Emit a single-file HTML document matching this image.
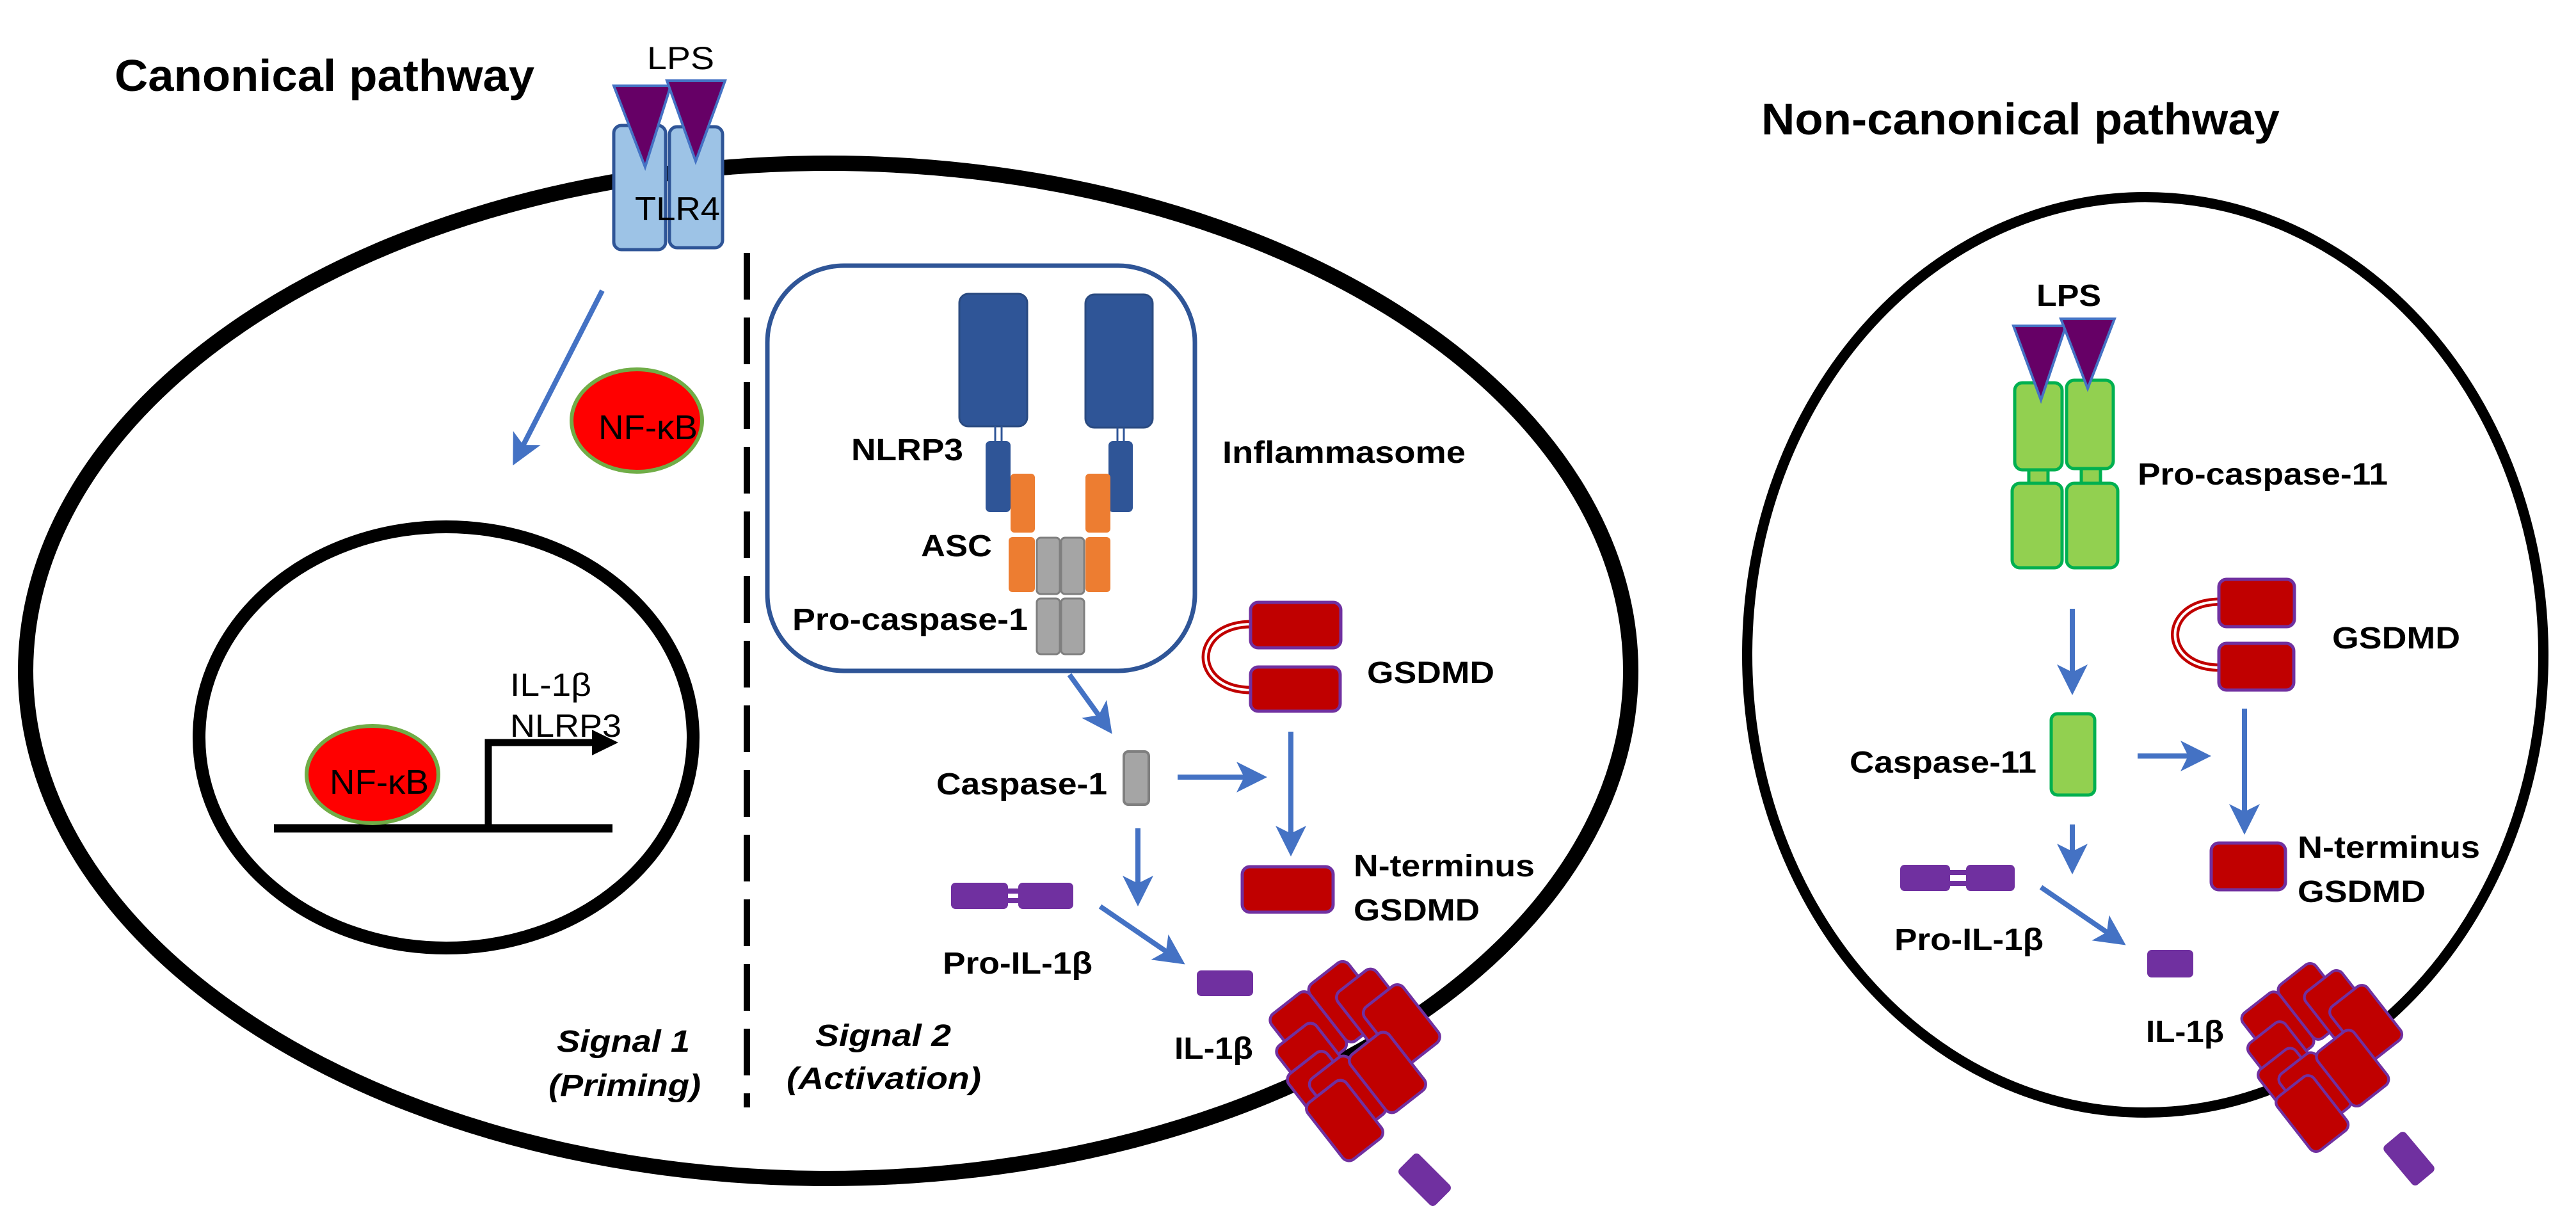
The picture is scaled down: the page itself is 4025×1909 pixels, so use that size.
<!DOCTYPE html>
<html><head><meta charset="utf-8"><style>
html,body{margin:0;padding:0;background:#fff;}
svg{display:block;}
text{font-family:"Liberation Sans",Arial,sans-serif;font-weight:bold;fill:#000;}
</style></head><body>
<svg width="4025" height="1909" viewBox="0 0 4025 1909" xmlns="http://www.w3.org/2000/svg">
<defs>
<marker id="ah" markerWidth="6" markerHeight="6" refX="5" refY="3" orient="auto" markerUnits="strokeWidth">
<path d="M0,0 L6,3 L0,6 L1.5,3 Z" fill="#4472c4"/></marker>
<g id="pore">
 <g transform="rotate(-38)">
  <rect x="-95" y="-150" width="85" height="125" rx="14"/>
  <rect x="-10" y="-150" width="85" height="125" rx="14"/>
  <rect x="-120" y="-100" width="85" height="125" rx="14"/>
  <rect x="20" y="-110" width="85" height="125" rx="14"/>
  <rect x="-135" y="-50" width="85" height="125" rx="14"/>
  <rect x="40" y="-60" width="85" height="125" rx="14"/>
  <rect x="-110" y="-20" width="85" height="125" rx="14"/>
  <rect x="-30" y="-10" width="85" height="125" rx="14"/>
  <rect x="-140" y="10" width="85" height="125" rx="14"/>
 </g>
</g>
</defs>

<!-- ===== Canonical ===== -->
<text x="179" y="142" font-size="70" textLength="656" lengthAdjust="spacingAndGlyphs">Canonical pathway</text>

<ellipse cx="1294" cy="1048" rx="1254" ry="793" fill="none" stroke="#000" stroke-width="24"/>

<!-- TLR4 -->
<rect x="959" y="196" width="81" height="194" rx="12" fill="#9dc3e6" stroke="#2f5597" stroke-width="5"/>
<rect x="1046" y="198" width="83" height="189" rx="12" fill="#9dc3e6" stroke="#2f5597" stroke-width="5"/>
<polygon points="959,134 1048,134 1008,261" fill="#660066" stroke="#4472c4" stroke-width="4"/>
<polygon points="1042,126 1133,126 1087,252" fill="#660066" stroke="#4472c4" stroke-width="4"/>
<text x="1011" y="108" font-size="50" style="font-weight:normal" textLength="105" lengthAdjust="spacingAndGlyphs">LPS</text>
<text x="992" y="344" font-size="52" style="font-weight:normal" textLength="133" lengthAdjust="spacingAndGlyphs">TLR4</text>

<!-- dashed divider -->
<line x1="1167" y1="395" x2="1167" y2="1730" stroke="#000" stroke-width="10" stroke-dasharray="73,28"/>

<!-- arrow TLR4 to nucleus -->
<line x1="941" y1="454" x2="805" y2="720" stroke="#4472c4" stroke-width="8" marker-end="url(#ah)"/>

<!-- NF-kB cytoplasm -->
<ellipse cx="995" cy="657" rx="102" ry="80" fill="#ff0000" stroke="#70ad47" stroke-width="6"/>
<text x="935" y="686" font-size="54" style="font-weight:normal" textLength="155" lengthAdjust="spacingAndGlyphs">NF-κB</text>

<!-- nucleus -->
<ellipse cx="697" cy="1152" rx="386" ry="329" fill="none" stroke="#000" stroke-width="20"/>
<line x1="428" y1="1294" x2="957" y2="1294" stroke="#000" stroke-width="13"/>
<ellipse cx="582" cy="1210" rx="103" ry="76" fill="#ff0000" stroke="#70ad47" stroke-width="6"/>
<text x="515" y="1240" font-size="54" style="font-weight:normal" textLength="155" lengthAdjust="spacingAndGlyphs">NF-κB</text>
<polyline points="763,1294 763,1160 930,1160" fill="none" stroke="#000" stroke-width="11"/>
<polygon points="925,1140 966,1160 925,1180" fill="#000"/>
<text x="797" y="1087" font-size="50" style="font-weight:normal" textLength="127" lengthAdjust="spacingAndGlyphs">IL-1β</text>
<text x="797" y="1151" font-size="50" style="font-weight:normal" textLength="174" lengthAdjust="spacingAndGlyphs">NLRP3</text>

<!-- Inflammasome box -->
<rect x="1199" y="415" width="668" height="633" rx="120" fill="none" stroke="#2f5597" stroke-width="7"/>
<rect x="1499" y="459" width="106" height="207" rx="14" fill="#2f5597" stroke="#2a4a80" stroke-width="3"/>
<rect x="1696" y="460" width="105" height="208" rx="14" fill="#2f5597" stroke="#2a4a80" stroke-width="3"/>
<line x1="1555" y1="666" x2="1555" y2="690" stroke="#2f5597" stroke-width="3"/><line x1="1565" y1="666" x2="1565" y2="690" stroke="#2f5597" stroke-width="3"/>
<line x1="1746" y1="668" x2="1746" y2="690" stroke="#2f5597" stroke-width="3"/><line x1="1756" y1="668" x2="1756" y2="690" stroke="#2f5597" stroke-width="3"/>
<rect x="1540" y="689" width="39" height="111" rx="7" fill="#2f5597"/>
<rect x="1732" y="689" width="38" height="111" rx="7" fill="#2f5597"/>
<rect x="1579" y="740" width="38" height="92" rx="6" fill="#ed7d31"/>
<rect x="1576" y="839" width="41" height="86" rx="6" fill="#ed7d31"/>
<rect x="1696" y="740" width="39" height="92" rx="6" fill="#ed7d31"/>
<rect x="1696" y="839" width="39" height="86" rx="6" fill="#ed7d31"/>
<g fill="#a5a5a5" stroke="#7f7f7f" stroke-width="3">
<rect x="1620" y="840" width="36" height="88" rx="6"/>
<rect x="1658" y="840" width="36" height="88" rx="6"/>
<rect x="1620" y="935" width="36" height="87" rx="6"/>
<rect x="1658" y="935" width="36" height="87" rx="6"/>
</g>
<text x="1330" y="719" font-size="48" textLength="175" lengthAdjust="spacingAndGlyphs">NLRP3</text>
<text x="1439" y="869" font-size="48" textLength="111" lengthAdjust="spacingAndGlyphs">ASC</text>
<text x="1238" y="984" font-size="48" textLength="368" lengthAdjust="spacingAndGlyphs">Pro-caspase-1</text>
<text x="1910" y="723" font-size="48" textLength="380" lengthAdjust="spacingAndGlyphs">Inflammasome</text>

<!-- GSDMD canonical -->
<path d="M1956,975 C1860,975 1860,1078 1956,1078" fill="none" stroke="#c00000" stroke-width="13"/>
<path d="M1956,975 C1860,975 1860,1078 1956,1078" fill="none" stroke="#fff" stroke-width="4"/>
<rect x="1954" y="941" width="141" height="71" rx="12" fill="#c00000" stroke="#7030a0" stroke-width="5"/>
<rect x="1954" y="1042" width="140" height="69" rx="12" fill="#c00000" stroke="#7030a0" stroke-width="5"/>
<text x="2136" y="1067" font-size="48" textLength="199" lengthAdjust="spacingAndGlyphs">GSDMD</text>
<line x1="2017" y1="1143" x2="2017" y2="1330" stroke="#4472c4" stroke-width="8" marker-end="url(#ah)"/>
<rect x="1941" y="1354" width="142" height="71" rx="12" fill="#c00000" stroke="#7030a0" stroke-width="5"/>
<text x="2115" y="1369" font-size="48" textLength="283" lengthAdjust="spacingAndGlyphs">N-terminus</text>
<text x="2115" y="1438" font-size="48" textLength="197" lengthAdjust="spacingAndGlyphs">GSDMD</text>

<!-- Caspase-1 -->
<line x1="1671" y1="1054" x2="1733" y2="1140" stroke="#4472c4" stroke-width="8" marker-end="url(#ah)"/>
<rect x="1756" y="1174" width="39" height="83" rx="7" fill="#a5a5a5" stroke="#7f7f7f" stroke-width="4"/>
<text x="1463" y="1241" font-size="48" textLength="267" lengthAdjust="spacingAndGlyphs">Caspase-1</text>
<line x1="1840" y1="1214" x2="1972" y2="1214" stroke="#4472c4" stroke-width="8" marker-end="url(#ah)"/>
<line x1="1778" y1="1294" x2="1778" y2="1408" stroke="#4472c4" stroke-width="8" marker-end="url(#ah)"/>

<!-- Pro-IL-1b canonical -->
<rect x="1486" y="1379" width="89" height="41" rx="7" fill="#7030a0"/>
<rect x="1591" y="1379" width="86" height="41" rx="7" fill="#7030a0"/>
<rect x="1574" y="1388" width="18" height="8" fill="#7030a0"/><rect x="1574" y="1403" width="18" height="8" fill="#7030a0"/>
<text x="1473" y="1521" font-size="48" textLength="234" lengthAdjust="spacingAndGlyphs">Pro-IL-1β</text>
<line x1="1719" y1="1416" x2="1845" y2="1502" stroke="#4472c4" stroke-width="8" marker-end="url(#ah)"/>
<rect x="1870" y="1516" width="88" height="40" rx="7" fill="#7030a0"/>
<text x="1835" y="1654" font-size="48" textLength="123" lengthAdjust="spacingAndGlyphs">IL-1β</text>

<text x="870" y="1643" font-size="48" font-style="italic" textLength="208" lengthAdjust="spacingAndGlyphs">Signal 1</text>
<text x="857" y="1712" font-size="48" font-style="italic" textLength="238" lengthAdjust="spacingAndGlyphs">(Priming)</text>
<text x="1274" y="1634" font-size="48" font-style="italic" textLength="212" lengthAdjust="spacingAndGlyphs">Signal 2</text>
<text x="1229" y="1701" font-size="48" font-style="italic" textLength="304" lengthAdjust="spacingAndGlyphs">(Activation)</text>

<!-- pore canonical -->
<g transform="translate(2130,1645) scale(0.9)" fill="#c00000" stroke="#7030a0" stroke-width="5"><use href="#pore"/></g>
<rect x="-40" y="-22" width="80" height="44" rx="7" fill="#7030a0" transform="translate(2226,1843) rotate(45)"/>

<!-- ===== Non-canonical ===== -->
<text x="2752" y="210" font-size="70" textLength="810" lengthAdjust="spacingAndGlyphs">Non-canonical pathway</text>
<ellipse cx="3352" cy="1023" rx="622" ry="715" fill="none" stroke="#000" stroke-width="16"/>

<text x="3182" y="478" font-size="48" textLength="101" lengthAdjust="spacingAndGlyphs">LPS</text>
<g fill="#92d050" stroke="#00b050" stroke-width="5">
<rect x="3148" y="598" width="74" height="136" rx="12"/>
<rect x="3229" y="594" width="73" height="138" rx="12"/>
<rect x="3144" y="755" width="78" height="132" rx="12"/>
<rect x="3229" y="755" width="80" height="132" rx="12"/>
<rect x="3170" y="734" width="30" height="21"/>
<rect x="3252" y="732" width="30" height="23"/>
</g>
<polygon points="3146,509 3228,509 3189,625" fill="#660066" stroke="#4472c4" stroke-width="4"/>
<polygon points="3220,498 3304,498 3262,607" fill="#660066" stroke="#4472c4" stroke-width="4"/>
<text x="3340" y="757" font-size="48" textLength="391" lengthAdjust="spacingAndGlyphs">Pro-caspase-11</text>

<line x1="3238" y1="951" x2="3238" y2="1078" stroke="#4472c4" stroke-width="8" marker-end="url(#ah)"/>
<rect x="3205" y="1115" width="68" height="127" rx="10" fill="#92d050" stroke="#00b050" stroke-width="5"/>
<text x="2890" y="1207" font-size="48" textLength="292" lengthAdjust="spacingAndGlyphs">Caspase-11</text>
<line x1="3340" y1="1181" x2="3447" y2="1181" stroke="#4472c4" stroke-width="8" marker-end="url(#ah)"/>
<line x1="3238" y1="1288" x2="3238" y2="1358" stroke="#4472c4" stroke-width="8" marker-end="url(#ah)"/>

<path d="M3469,940 C3375,940 3375,1043 3469,1043" fill="none" stroke="#c00000" stroke-width="13"/>
<path d="M3469,940 C3375,940 3375,1043 3469,1043" fill="none" stroke="#fff" stroke-width="4"/>
<rect x="3467" y="905" width="118" height="74" rx="12" fill="#c00000" stroke="#7030a0" stroke-width="5"/>
<rect x="3467" y="1005" width="117" height="73" rx="12" fill="#c00000" stroke="#7030a0" stroke-width="5"/>
<text x="3644" y="1013" font-size="48" textLength="200" lengthAdjust="spacingAndGlyphs">GSDMD</text>
<line x1="3507" y1="1107" x2="3507" y2="1296" stroke="#4472c4" stroke-width="8" marker-end="url(#ah)"/>
<rect x="3455" y="1317" width="116" height="73" rx="12" fill="#c00000" stroke="#7030a0" stroke-width="5"/>
<text x="3590" y="1340" font-size="48" textLength="285" lengthAdjust="spacingAndGlyphs">N-terminus</text>
<text x="3590" y="1409" font-size="48" textLength="200" lengthAdjust="spacingAndGlyphs">GSDMD</text>

<rect x="2969" y="1351" width="78" height="41" rx="7" fill="#7030a0"/>
<rect x="3072" y="1351" width="76" height="41" rx="7" fill="#7030a0"/>
<rect x="3046" y="1359" width="27" height="8" fill="#7030a0"/><rect x="3046" y="1376" width="27" height="8" fill="#7030a0"/>
<text x="2960" y="1484" font-size="48" textLength="233" lengthAdjust="spacingAndGlyphs">Pro-IL-1β</text>
<line x1="3189" y1="1386" x2="3315" y2="1472" stroke="#4472c4" stroke-width="8" marker-end="url(#ah)"/>
<rect x="3355" y="1484" width="72" height="43" rx="7" fill="#7030a0"/>
<text x="3353" y="1628" font-size="48" textLength="122" lengthAdjust="spacingAndGlyphs">IL-1β</text>

<g transform="translate(3640,1640) scale(0.85)" fill="#c00000" stroke="#7030a0" stroke-width="5"><use href="#pore"/></g>
<rect x="-40" y="-22" width="80" height="44" rx="7" fill="#7030a0" transform="translate(3764,1810) rotate(50)"/>
</svg>
</body></html>
